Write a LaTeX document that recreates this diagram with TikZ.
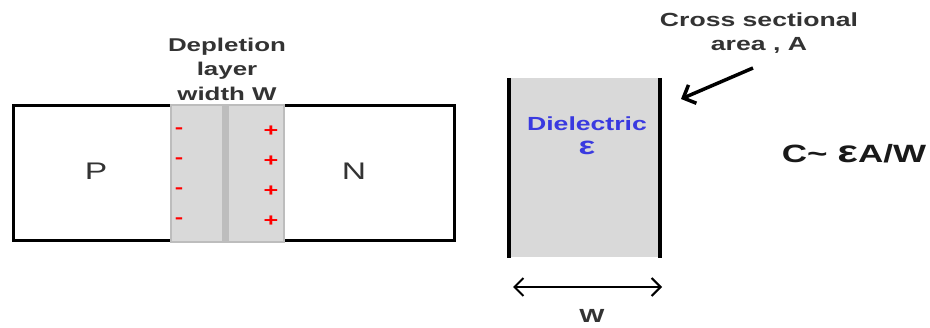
\documentclass[tikz,border=0pt]{standalone}
\usepackage{fontspec}
\setmainfont{Liberation Sans}[FakeStretch=1.4]
\usetikzlibrary{arrows.meta,positioning}
\definecolor{inkgray}{HTML}{333333}
\definecolor{layergray}{HTML}{D9D9D9}
\definecolor{edgegray}{HTML}{BDBDBD}
\definecolor{diblue}{HTML}{3A3AE0}
\tikzset{
  heading/.style={font=\bfseries\fontsize{18.5}{24.5}\selectfont, text=inkgray, align=center},
  region/.style={font=\fontsize{24}{28}\selectfont, text=inkgray},
  charge/.style={font=\bfseries\fontsize{18}{20}\selectfont, text=red},
  plate/.style={line width=4pt},
  pointer/.style={line width=3.5pt, -{Straight Barb[length=10pt,width=20pt]}},
  span/.style={line width=2pt, {Straight Barb[length=9pt,width=18pt]}-{Straight Barb[length=9pt,width=18pt]}}
}
\begin{document}
\begin{tikzpicture}[x=1pt,y=-1pt]
  \useasboundingbox (0,0) rectangle (930,328);
  % p-n junction
  \fill[edgegray] (170,104) rectangle (285,243);
  \fill[layergray] (172,106) rectangle (222,241);
  \fill[layergray] (229,106) rectangle (283,241);
  \draw[line width=3pt] (170,106) -- (13,106) -- (13,241) -- (170,241);
  \draw[line width=3pt] (285,106) -- (454,106) -- (454,241) -- (285,241);
  \node (P)[region] at (96,171) {P};
  \node (N)[region] at (354,171) {N};
  \foreach \y in {131,161,191,221} {
    \node[charge] at (179,\y) {-};
    \node[charge] at (271,\y) {+};
  }
  \node (depl)[heading] at (227,69) {Depletion\\layer\\width W};
  % parallel plate capacitor
  \fill[layergray] (509,78) rectangle (660,257);
  \draw[plate] (509,78) -- (509,258);
  \draw[plate] (660,78) -- (660,258);
  \node (diel)[heading, text=diblue, font=\bfseries\fontsize{19}{24}\selectfont] at (587,136) {Dielectric\\{\fontsize{25}{24}\selectfont ε}};
  \node (area)[heading, font=\bfseries\fontsize{19}{24}\selectfont] at (759,33) {Cross sectional\\area , A};
  \coordinate (areatail) at (753,68);
  \coordinate (areatip) at (681,99);
  \draw[pointer] (areatail) -- (areatip);
  \coordinate (wleft) at (513,287);
  \coordinate (wright) at (662,287);
  \draw[span] (wleft) -- (wright);
  \node (wlabel)[heading, font=\bfseries\fontsize{19}{24}\selectfont] at (592,316) {W};
  \node (formula)[font=\bfseries\fontsize{25}{30}\selectfont, text=black!90] at (854,154) {C\char`\~{} {\fontsize{31}{30}\selectfont ε}A/W};
\end{tikzpicture}
\end{document}
